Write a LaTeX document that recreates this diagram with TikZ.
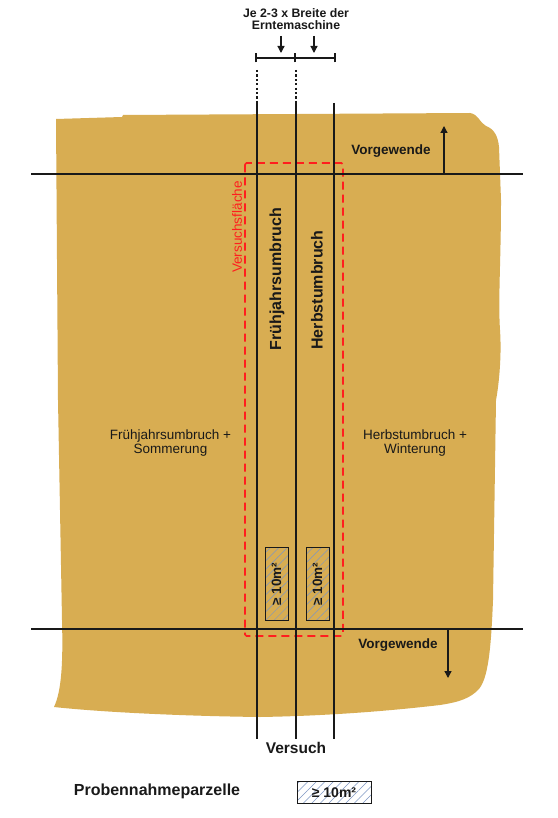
\documentclass[tikz,border=0pt]{standalone}
\usepackage{fontspec}
\setmainfont{Liberation Sans}
\usetikzlibrary{patterns.meta,arrows.meta}
\definecolor{field}{RGB}{216,173,82}
\definecolor{hatchc}{RGB}{125,150,195}
\definecolor{vred}{RGB}{255,30,30}
\definecolor{ink}{RGB}{25,25,25}
\begin{document}
\begin{tikzpicture}[x=1pt,y=-1pt,
  line/.style={line width=1.4pt, draw=ink},
  dotline/.style={line width=1.6pt, draw=ink, dash pattern=on 2.2pt off 2.2pt},
  arr/.style={line width=1.3pt, draw=ink, -{Triangle[length=7pt,width=7pt]}},
  reg/.style={font=\fontsize{13.5}{14.5}\selectfont, inner sep=0pt, align=center, text=ink},
  bld/.style={font=\bfseries\fontsize{13.5}{15}\selectfont, inner sep=0pt, align=center, text=ink},
  big/.style={font=\bfseries\fontsize{16}{18}\selectfont, inner sep=0pt, text=ink},
  sample/.style={draw=ink, line width=1pt, pattern={Lines[angle=45,distance=6pt,line width=0.5pt]}, pattern color=hatchc}
]
\useasboundingbox (0,0) rectangle (557,818);
\fill[white] (0,0) rectangle (557,818);

% field
\fill[field] (56,119) -- (122,117) -- (123,115) -- (470,113)
  .. controls (478,114) and (480,123) .. (486,126)
  .. controls (494,129) and (498,136) .. (499,147)
  -- (501,200)
  .. controls (501,260) and (498,300) .. (500,330)
  .. controls (502,360) and (498,390) .. (496,400)
  -- (493,600)
  .. controls (491,650) and (488,680) .. (478,690)
  .. controls (470,698) and (460,702) .. (440,705)
  .. controls (380,712) and (320,716) .. (260,717)
  .. controls (180,716) and (100,712) .. (54,707)
  .. controls (62,690) and (63,660) .. (62,620)
  -- (58,400) -- cycle;

% coordinates
\coordinate (a0) at (257,70);  \coordinate (a1) at (257,103); \coordinate (a2) at (257,739);
\coordinate (b0) at (296,70);  \coordinate (b1) at (296,103); \coordinate (b2) at (296,739);
\coordinate (c1) at (334,103); \coordinate (c2) at (334,739);
\coordinate (h1l) at (31,174); \coordinate (h1r) at (523,174);
\coordinate (h2l) at (31,629); \coordinate (h2r) at (523,629);

% red test area
\draw[vred, line width=1.6pt, dash pattern=on 8pt off 5pt, rounded corners=1.5pt]
  (245,163) rectangle (343,636);

% lines
\draw[dotline] (a0) -- (a1);
\draw[dotline] (b0) -- (b1);
\draw[line] (a1) -- (a2);
\draw[line] (b1) -- (b2);
\draw[line] (c1) -- (c2);
\draw[line] (h1l) -- (h1r);
\draw[line] (h2l) -- (h2r);

% dimension bar
\coordinate (d0) at (256,58); \coordinate (dm) at (295,58); \coordinate (d1) at (335,58);
\draw[line, line width=1.3pt] (d0) -- (d1);
\draw[line, line width=1.3pt] ([yshift=-4.5pt]d0) -- ([yshift=4.5pt]d0);
\draw[line, line width=1.3pt] ([yshift=-4.5pt]dm) -- ([yshift=4.5pt]dm);
\draw[line, line width=1.3pt] ([yshift=-4.5pt]d1) -- ([yshift=4.5pt]d1);
\coordinate (p1s) at (281,36); \coordinate (p1e) at (281,53);
\coordinate (p2s) at (314,36); \coordinate (p2e) at (314,53);
\draw[arr] (p1s) -- (p1e);
\draw[arr] (p2s) -- (p2e);
\node[bld, font=\bfseries\fontsize{12.3}{11.8}\selectfont] (je) at (296,19) {Je 2-3 x Breite der\\Erntemaschine};

% Vorgewende arrows
\coordinate (v1s) at (444,174); \coordinate (v1e) at (444,126);
\coordinate (v2s) at (448,629); \coordinate (v2e) at (448,678);
\draw[arr] (v1s) -- (v1e);
\draw[arr] (v2s) -- (v2e);
\node[bld] (vg1) at (391,151) {Vorgewende};
\node[bld] (vg2) at (398,645) {Vorgewende};

% labels
\node[reg, text=vred, rotate=90] (vf) at (237,227) {Versuchsfläche};
\node[big, rotate=90] (fu) at (277,279) {Frühjahrsumbruch};
\node[big, rotate=90] (hu) at (317,290) {Herbstumbruch};
\node[reg] (fs) at (170.5,443) {Frühjahrsumbruch +\\Sommerung};
\node[reg] (hw) at (415,443) {Herbstumbruch +\\Winterung};

% sample plots
\draw[sample] (265,547) rectangle (288,620);
\draw[sample] (306,547) rectangle (329,620);
\node[bld, rotate=90] (s1) at (276.5,584) {≥ 10m²};
\node[bld, rotate=90] (s2) at (317.5,584) {≥ 10m²};

% bottom
\node[big, font=\bfseries\fontsize{15.5}{17}\selectfont] (vs) at (296,748) {Versuch};
\node[big] (pp) at (157,791) {Probennahmeparzelle};
\draw[sample, fill=white] (297,781) rectangle (371,803);
\draw[sample] (297,781) rectangle (371,803);
\node[bld, font=\bfseries\fontsize{14}{16}\selectfont] (lg) at (334,792.5) {≥ 10m²};
\end{tikzpicture}
\end{document}
